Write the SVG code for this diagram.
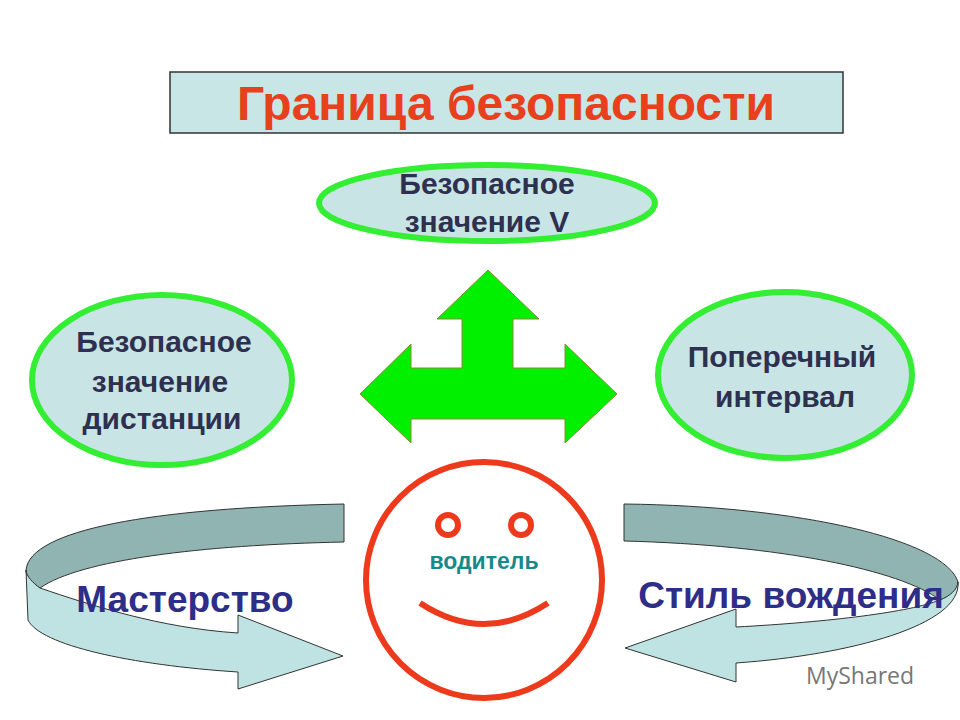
<svg xmlns="http://www.w3.org/2000/svg" width="960" height="720" viewBox="0 0 960 720">
<style>
.oval{fill:#c8e4e4;stroke:#33ee33;stroke-width:6}
.t{font-family:"Liberation Sans",Arial,sans-serif;font-weight:bold;text-anchor:middle}
.n{font-size:30px;fill:#2e3050}
.b{font-size:37px;fill:#2e2e88}
.dark{fill:#8fb4b1;stroke:#333;stroke-width:1}
.light{fill:#bfe3e3;stroke:#333;stroke-width:1}
</style>
<rect width="960" height="720" fill="#fff"/>
<g id="title"><rect x="170" y="72" width="673" height="61" fill="#c8e6e6" stroke="#333" stroke-width="1.5"/>
<text class="t" x="506" y="120" font-size="48" fill="#e8401c">Граница безопасности</text></g>
<g id="speed"><ellipse class="oval" cx="487" cy="203" rx="168" ry="38"/>
<text class="t n" x="487" y="194">Безопасное</text><text class="t n" x="487" y="232">значение V</text></g>
<g id="distance"><ellipse class="oval" cx="162" cy="380" rx="130" ry="85"/>
<text class="t n" x="164" y="352">Безопасное</text><text class="t n" x="160" y="392">значение</text><text class="t n" x="162" y="429">дистанции</text></g>
<g id="interval"><ellipse class="oval" cx="785" cy="375" rx="127" ry="83"/>
<text class="t n" x="782" y="367">Поперечный</text><text class="t n" x="785" y="407">интервал</text></g>
<g id="connectors">
<polygon points="488,270 539,319 513,319 513,368 565,368 565,344 617,394 565,443 565,419 411,419 411,443 360,394 411,344 411,368 462,368 462,319 437,319" fill="#00f000" stroke="#8a8a30" stroke-width="1"/>
</g>
<g id="mastery">
<path class="dark" d="M344,504 L344,542 C200,545 80,560 40,588 C30,582 26,576 26,570 C30,530 150,508 344,504 Z"/>
<path class="light" d="M26,570 L28,620 C40,645 130,665 238,672 L238,689 L343,656 L238,615 L238,633 C160,628 90,605 40,588 C33,583 26,576 26,570 Z"/>
<text class="t b" x="185" y="612">Мастерство</text></g>
<g id="style">
<path class="dark" d="M624,504 L624,541 C780,545 900,570 940,600 C952,596 958,590 958,582 C945,540 800,506 624,504 Z"/>
<path class="light" d="M958,582 C962,625 850,655 736,663 L736,682 L625,648 L736,609 L736,627 C830,622 910,612 940,600 C950,596 957,590 958,582 Z"/>
<text class="t b" x="791" y="608">Стиль вождения</text></g>
<g id="driver">
<circle cx="484" cy="580" r="118" fill="#fff" stroke="#ee3a1c" stroke-width="6"/>
<circle cx="448" cy="525" r="10" fill="#fff" stroke="#ee3a1c" stroke-width="6"/>
<circle cx="521" cy="525" r="10" fill="#fff" stroke="#ee3a1c" stroke-width="6"/>
<path d="M420,603 Q484,645 548,603" fill="none" stroke="#ee3a1c" stroke-width="6"/>
<text class="t" x="484" y="569" font-size="23" fill="#168a8a">водитель</text></g>
<text x="806" y="684" font-family="'Open Sans',sans-serif" font-size="23" fill="#777">MyShared</text>
</svg>
